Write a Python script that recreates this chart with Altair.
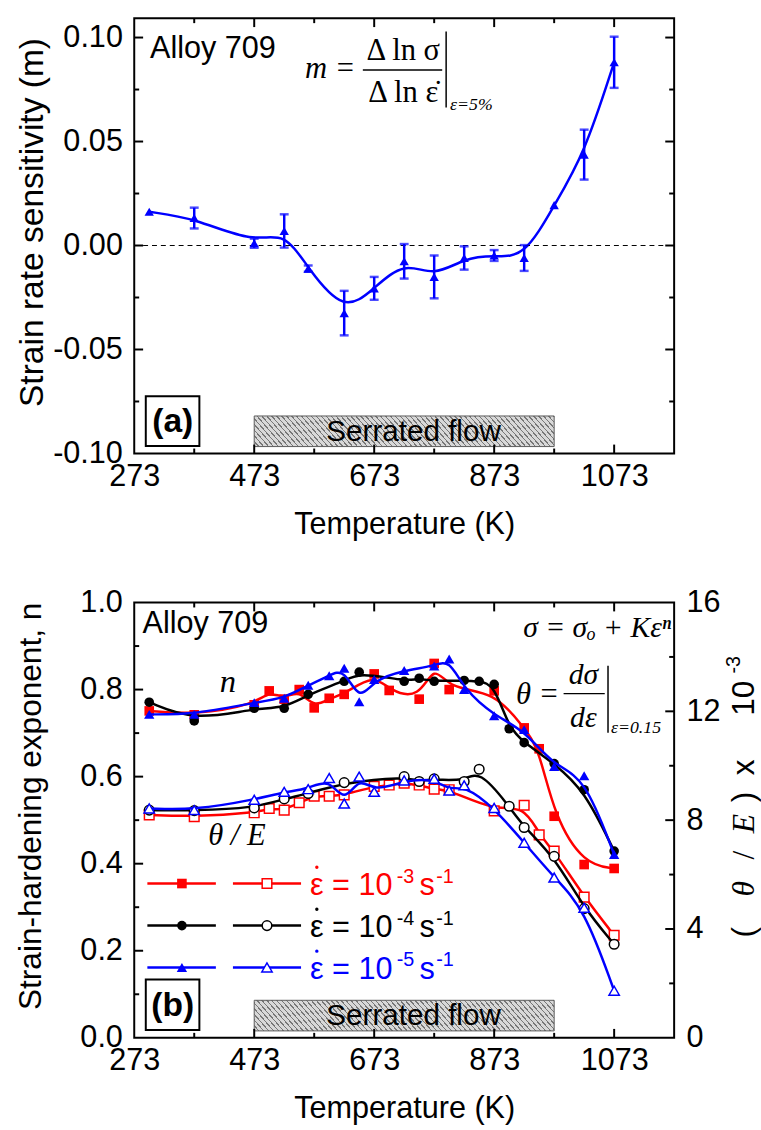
import altair as alt
import pandas as pd

SANS = "Liberation Sans"
SERIF = "Liberation Serif"
RED, BLACK, BLUE = "#ff0000", "#000000", "#0000ff"
W, H = 547, 441

# ---------------- data: panel (a) strain rate sensitivity ----------------
m_T = [298, 373, 473, 523, 563, 623, 673, 723, 773, 823, 873, 923, 973, 1023, 1073]
m_val = [0.0162, 0.0132, 0.0011, 0.0070, -0.0111, -0.0325, -0.0206, -0.0076,
         -0.0151, -0.0060, -0.0048, -0.0060, 0.0194, 0.0437, 0.0881]
m_err = [0.0, 0.005, 0.0022, 0.008, 0.0015, 0.0107, 0.0055, 0.0083,
         0.0103, 0.0056, 0.0026, 0.0062, 0.0, 0.012, 0.0123]

# ---------------- data: panel (b) strain-hardening exponent n ----------------
n3_T = [298, 373, 473, 498, 523, 548, 573, 598, 623, 673, 698, 748, 773, 798, 873, 923, 948, 973, 1023, 1073]
n3 = [0.751, 0.742, 0.765, 0.797, 0.778, 0.800, 0.758, 0.780, 0.789, 0.836, 0.798, 0.778, 0.860, 0.800,
      0.797, 0.712, 0.664, 0.509, 0.398, 0.389]
n4_T = [298, 373, 473, 523, 563, 623, 648, 723, 748, 773, 823, 848, 873, 898, 923, 973, 1023, 1073]
n4 = [0.771, 0.728, 0.757, 0.757, 0.789, 0.819, 0.840, 0.819, 0.826, 0.819, 0.821, 0.819, 0.812,
      0.710, 0.678, 0.630, 0.570, 0.429]
n5_T = [298, 373, 473, 523, 563, 598, 623, 648, 673, 723, 773, 798, 823, 873, 923, 973, 1023, 1073]
n5 = [0.743, 0.743, 0.770, 0.780, 0.810, 0.832, 0.849, 0.772, 0.823, 0.844, 0.854, 0.870, 0.800,
      0.740, 0.708, 0.623, 0.602, 0.421]

# theta/E (x 10^-3)
t3_T = [298, 373, 473, 498, 523, 548, 573, 598, 623, 673, 698, 723, 748, 773, 798, 873, 923, 948, 973, 1023, 1073]
t3 = [8.19, 8.13, 8.27, 8.43, 8.37, 8.64, 8.88, 8.88, 8.93, 9.24, 9.29, 9.36, 9.29, 9.14, 9.12,
      8.34, 8.55, 7.46, 6.86, 5.17, 3.77]
t4_T = [298, 373, 473, 523, 563, 623, 723, 748, 773, 823, 848, 898, 923, 973, 1023, 1073]
t4 = [8.37, 8.35, 8.45, 8.78, 8.98, 9.38, 9.60, 9.42, 9.52, 9.42, 9.87, 8.51, 7.73, 6.67, 4.75, 3.44]
t5_T = [298, 373, 473, 523, 563, 598, 623, 648, 673, 723, 773, 798, 823, 873, 923, 973, 1023, 1073]
t5 = [8.43, 8.37, 8.75, 9.04, 9.14, 9.55, 8.61, 9.60, 9.04, 9.46, 9.52, 9.09, 9.28, 8.45, 7.17,
      5.89, 4.78, 1.73]

# ticks / labels
x_major = [273, 473, 673, 873, 1073]
x_minor = [373, 573, 773, 973]
a_major = [-0.10, -0.05, 0.0, 0.05, 0.10]
a_minor = [-0.075, -0.025, 0.025, 0.075]
b_major = [0.0, 0.2, 0.4, 0.6, 0.8, 1.0]
b_minor = [0.1, 0.3, 0.5, 0.7, 0.9]
r_major = [0, 4, 8, 12, 16]
r_minor = [2, 6, 10, 14]
serrated = [473, 973]
zero_line = [0.0]

xs = alt.Scale(domain=[273, 1173], nice=False, zero=False)
ya = alt.Scale(domain=[-0.10, 0.1093], nice=False, zero=False)
yb = alt.Scale(domain=[0.0, 1.0], nice=False, zero=False)
yr = alt.Scale(domain=[0, 16], nice=False, zero=False)

LBL = 31
MINUS_FIX = "replace(datum.label, '\u2212', '-')"


def axis_common():
    return dict(ticks=False, tickSize=0, domain=False, grid=False, labelFontSize=LBL,
                labelFont=SANS, titleFont=SANS, titleFontWeight="normal",
                labelColor="black", titleColor="black", labelFlush=False, labelOverlap=False)


X_AXIS = alt.Axis(values=x_major, format="d", title="Temperature (K)", labelPadding=8,
                  titleFontSize=31, titleY=72, titleBaseline="middle", **axis_common())


def y_axis(vals, fmt, title, tx, ty, size, orient="left", pad=12):
    kw = dict(values=vals, format=fmt, orient=orient, labelPadding=pad, labelExpr=MINUS_FIX)
    if title:
        kw.update(title=title, titleX=tx, titleY=ty, titleAngle=270, titleBaseline="middle",
                  titleFontSize=size)
    else:
        kw.update(title=None)
    return alt.Axis(**kw, **axis_common())


YA_AXIS = y_axis(a_major, ".2f", "Strain rate sensitivity (m)", -103, 206.5, 34)
YB_AXIS = y_axis(b_major, ".1f", "Strain-hardening exponent, n", -105, 206, 32)
YR_AXIS = y_axis(r_major, "d", None, 0, 0, 0, orient="right")
AX = {id(ya): YA_AXIS, id(yb): YB_AXIS, id(yr): YR_AXIS}


def XE(f):
    return alt.X(f, scale=xs, axis=X_AXIS)


def YE(f, scale):
    return alt.Y(f, scale=scale, axis=AX[id(scale)])


def hatch():
    bg, ln = "#d8d8d8", "#777777"
    p = 0.0146
    stops = []
    t = 0.0
    while t < 1.0:
        b = min(t + p * 0.28, 1.0)
        c = min(t + p, 1.0)
        stops += [(t, ln), (b, ln), (b, bg), (c, bg)]
        t += p
    g = 0.0993
    return {"gradient": "linear", "x1": -0.06, "y1": 0.5 + g / 2, "x2": 1.06, "y2": 0.5 - g / 2,
            "stops": [{"offset": round(o, 5), "color": c} for o, c in stops]}


HATCH = hatch()


def one():
    return pd.DataFrame({"k": [0]})


def txt(s, x, y, size=28, font=SANS, align="left", baseline="middle", style="normal",
        weight="normal", color="black", angle=0):
    return alt.Chart(pd.DataFrame({"t": [s]})).mark_text(
        align=align, baseline=baseline, fontSize=size, font=font, fontStyle=style,
        fontWeight=weight, color=color, angle=angle).encode(x=alt.value(x), y=alt.value(y), text="t:N")


def prule(x1, y1, x2, y2, color="black", w=1.5):
    return alt.Chart(one()).mark_rule(color=color, strokeWidth=w).encode(
        x=alt.value(x1), y=alt.value(y1), x2=alt.value(x2), y2=alt.value(y2))


def xticks(vals, L):
    df = pd.DataFrame({"v": vals})
    b = alt.Chart(df).mark_rule(color="black", strokeWidth=2).encode(
        x=XE("v:Q"), y=alt.value(H), y2=alt.value(H - L))
    t = alt.Chart(df).mark_rule(color="black", strokeWidth=2).encode(
        x=XE("v:Q"), y=alt.value(0), y2=alt.value(L))
    return [b, t]


def yticks(vals, scale, L, sides=("left", "right")):
    df = pd.DataFrame({"v": vals})
    out = []
    for s in sides:
        x0, x1 = (0, L) if s == "left" else (W, W - L)
        out.append(alt.Chart(df).mark_rule(color="black", strokeWidth=2).encode(
            y=YE("v:Q", scale), x=alt.value(x0), x2=alt.value(x1)))
    return out


def serr_box():
    df = pd.DataFrame({"a": [serrated[0]], "b": [serrated[1]]})
    r = alt.Chart(df).mark_rect(fill=HATCH, stroke="#5a5a5a", strokeWidth=1).encode(
        x=XE("a:Q"), x2="b:Q", y=alt.value(403), y2=alt.value(434))
    t = txt("Serrated flow", 283, 419, size=30, align="center")
    return [r, t]


def label_box(s, y1, y2):
    r = alt.Chart(one()).mark_rect(fill="white", stroke="black", strokeWidth=2).encode(
        x=alt.value(11.7), x2=alt.value(66), y=alt.value(y1), y2=alt.value(y2))
    t = txt(s, 39, (y1 + y2) / 2 + 1, size=34, weight="bold", align="center")
    return [r, t]


# ---------------- panel (a) ----------------
dfa = pd.DataFrame({"T": m_T, "m": m_val,
                    "lo": [v - e for v, e in zip(m_val, m_err)],
                    "hi": [v + e for v, e in zip(m_val, m_err)],
                    "e": m_err})
dfe = dfa[dfa["e"] > 0]

line_a = alt.Chart(dfa).mark_line(color=BLUE, strokeWidth=2.5, interpolate="basis").encode(
    x=XE("T:Q"), y=YE("m:Q", ya))
zero_a = alt.Chart(pd.DataFrame({"z": zero_line})).mark_rule(
    color="black", strokeWidth=1, strokeDash=[5, 4]).encode(
    y=YE("z:Q", ya), x=alt.value(0), x2=alt.value(W))
err_a = alt.Chart(dfe).mark_rule(color=BLUE, strokeWidth=2.5).encode(
    x=XE("T:Q"), y=YE("lo:Q", ya), y2="hi:Q")
caplo = alt.Chart(dfe).mark_tick(orient="horizontal", size=9, thickness=2.5, color=BLUE).encode(
    x=XE("T:Q"), y=YE("lo:Q", ya))
caphi = alt.Chart(dfe).mark_tick(orient="horizontal", size=9, thickness=2.5, color=BLUE).encode(
    x=XE("T:Q"), y=YE("hi:Q", ya))
pts_a = alt.Chart(dfa).mark_point(shape="triangle-up", filled=True, size=90, color=BLUE,
                                  opacity=1).encode(x=XE("T:Q"), y=YE("m:Q", ya))

layers_a = [line_a, zero_a] + serr_box() + label_box("(a)", 383, 433.5) + [err_a, caplo, caphi, pts_a]
layers_a += xticks(x_major[1:], 9) + xticks(x_minor, 5)
layers_a += yticks(a_major[1:], ya, 9) + yticks(a_minor, ya, 5)
layers_a += [
    txt("Alloy 709", 16, 31, size=31),
    txt("m =", 173, 52, size=31, font=SERIF, style="italic"),
    txt("\u0394 ln \u03c3", 272.6, 33.5, size=31, font=SERIF, align="center"),
    prule(231.6, 52.5, 312, 52.5),
    txt("\u0394 ln \u03b5\u0307", 272.6, 75.5, size=31, font=SERIF, align="center"),
    prule(316, 13.5, 316, 90.5),
    txt("\u03b5=5%", 320, 88, size=18, font=SERIF, style="italic"),
]
panel_a = alt.layer(*layers_a).properties(width=W, height=H)


# ---------------- panel (b) ----------------
def series(Ts, vals, scale, color, shape, filled, size):
    df = pd.DataFrame({"T": Ts, "v": vals})
    ln = alt.Chart(df).mark_line(color=color, strokeWidth=2.5, interpolate="basis").encode(
        x=XE("T:Q"), y=YE("v:Q", scale))
    if filled:
        pm = alt.Chart(df).mark_point(shape=shape, filled=True, size=size, color=color, opacity=1)
    else:
        pm = alt.Chart(df).mark_point(shape=shape, filled=True, size=size, fill="white",
                                      stroke=color, strokeWidth=1.5, opacity=1)
    pt = pm.encode(x=XE("T:Q"), y=YE("v:Q", scale))
    return [ln, pt]


left = []
left += series(n3_T, n3, yb, RED, "square", True, 95)
left += serr_box() + label_box("(b)", 382, 433)
left += series(n4_T, n4, yb, BLACK, "circle", True, 95)
left += series(n5_T, n5, yb, BLUE, "triangle-up", True, 110)
left += xticks(x_major[1:], 9) + xticks(x_minor, 5)
left += yticks(b_major[1:-1], yb, 9, ("left",)) + yticks(b_minor, yb, 5, ("left",))
left += [
    txt("Alloy 709", 8.4, 22, size=31),
    txt("\u03c3 = \u03c3\u2092 + K\u03b5\u207f", 544, 25.7, size=30, font=SERIF, style="italic", align="right"),
    txt("\u03b8 =", 386.7, 94, size=31, font=SERIF, style="italic"),
    txt("d\u03c3", 455, 74, size=30, font=SERIF, style="italic", align="center"),
    prule(435, 92.3, 476.7, 92.3),
    txt("d\u03b5", 455, 117, size=30, font=SERIF, style="italic", align="center"),
    prule(480, 64, 480, 132),
    txt("\u03b5=0.15", 483, 127, size=18, font=SERIF, style="italic"),
    txt("n", 95, 81, size=33, font=SERIF, style="italic", align="center"),
    txt("\u03b8 / E", 104, 237, size=31, font=SERIF, style="italic", align="center"),
]

# legend
leg_rows = [(284.7, RED, "square", "-3", 95), (327.3, BLACK, "circle", "-4", 95),
            (369.7, BLUE, "triangle-up", "-5", 110)]
for yy, col, shp, ex, sz in leg_rows:
    left.append(prule(13.3, yy, 82.7, yy, color=col, w=2.5))
    left.append(prule(100, yy, 169, yy, color=col, w=2.5))
    left.append(alt.Chart(one()).mark_point(shape=shp, filled=True, size=sz, color=col, opacity=1)
                .encode(x=alt.value(48.3), y=alt.value(yy)))
    left.append(alt.Chart(one()).mark_point(shape=shp, filled=True, size=sz, fill="white",
                                            stroke=col, strokeWidth=1.5, opacity=1)
                .encode(x=alt.value(134.5), y=alt.value(yy)))
    left.append(txt("\u03b5 = 10", 178, yy + 11.5, size=31, baseline="alphabetic", color=col))
    left.append(txt(ex, 266, yy - 1, size=20, baseline="alphabetic", color=col))
    left.append(txt("s", 289, yy + 11.5, size=31, baseline="alphabetic", color=col))
    left.append(txt("-1", 306, yy - 1, size=20, baseline="alphabetic", color=col))
    left.append(alt.Chart(one()).mark_point(shape="circle", filled=True, size=12, color=col, opacity=1)
                .encode(x=alt.value(185), y=alt.value(yy - 16.5)))

# right-axis title "(θ / E) x 10^-3", rotated, built from pieces
RT_X = 618
left += [
    txt("(", RT_X, 334, size=32, align="center", angle=270),
    txt("\u03b8", RT_X, 290, size=32, font=SERIF, style="italic", align="center", angle=270),
    txt("/", RT_X, 256, size=32, font=SERIF, align="center", angle=270),
    txt("E", RT_X, 224, size=32, font=SERIF, style="italic", align="center", angle=270),
    txt(")", RT_X, 197, size=32, align="center", angle=270),
    txt("x", RT_X, 167, size=32, align="center", angle=270),
    txt("10", RT_X, 97, size=32, align="center", angle=270),
    txt("-3", RT_X - 10, 63, size=20, align="center", angle=270),
]

right = []
right += series(t3_T, t3, yr, RED, "square", False, 95)
right += series(t4_T, t4, yr, BLACK, "circle", False, 95)
right += series(t5_T, t5, yr, BLUE, "triangle-up", False, 110)
right += yticks(r_major[1:-1], yr, 9, ("right",)) + yticks(r_minor, yr, 5, ("right",))

panel_b = alt.layer(alt.layer(*left), alt.layer(*right)).resolve_scale(y="independent").properties(
    width=W, height=H)

chart = alt.vconcat(panel_a, panel_b, spacing=151, bounds="flush").properties(
    padding={"left": 13, "top": 9, "right": 0, "bottom": 0}, background="white"
).configure_view(stroke="black", strokeWidth=2)

chart.save("out.html", embed_options={"renderer": "svg", "actions": False})
